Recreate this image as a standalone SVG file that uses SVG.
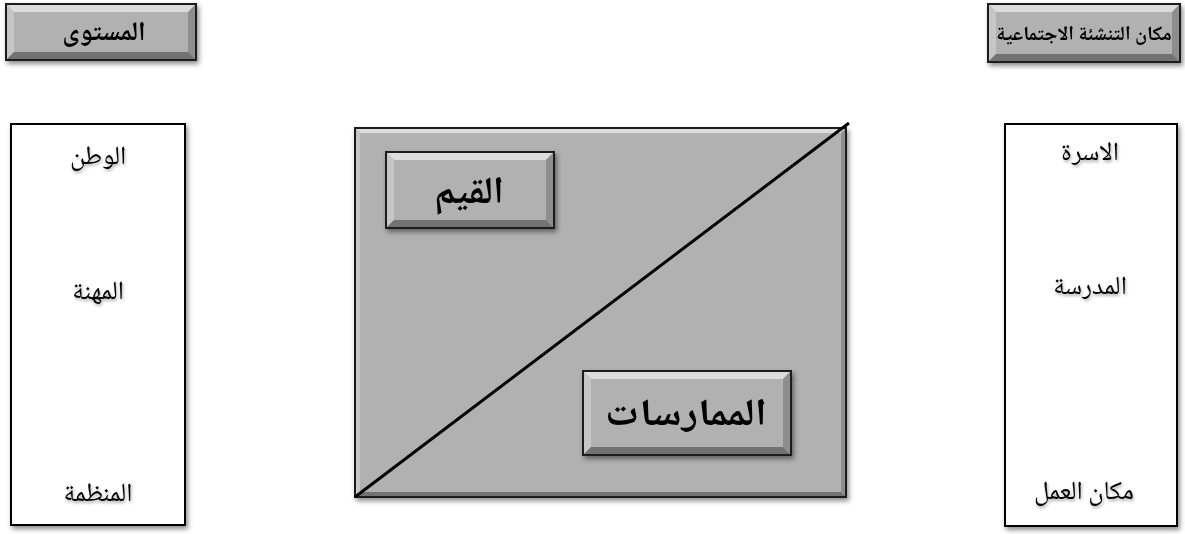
<svg xmlns="http://www.w3.org/2000/svg" width="1185" height="534" viewBox="0 0 1185 534">
<defs>
<filter id="sh" x="-10%" y="-10%" width="130%" height="130%"><feDropShadow dx="2" dy="3" stdDeviation="2.5" flood-color="#000" flood-opacity="0.45"/></filter>
<filter id="tsh" x="-10%" y="-20%" width="130%" height="150%"><feDropShadow dx="1" dy="2" stdDeviation="1.5" flood-color="#000" flood-opacity="0.35"/></filter>
</defs>
<style>
.face{fill:#b1b1b1}
.top{fill:#dcdcdc}
.left{fill:#c6c6c6}
.right{fill:#8e8e8e}
.bot{fill:#727272}
.frame{fill:none;stroke:#1a1a1a;stroke-width:2}
.lst{fill:#fff;stroke:#000;stroke-width:2}
.hd{font-family:"Noto Naskh Arabic","Noto Sans Arabic","DejaVu Sans",sans-serif;font-weight:bold;font-size:27px;text-anchor:middle;fill:#000}
.hd2{font-family:"Noto Naskh Arabic","Noto Sans Arabic","DejaVu Sans",sans-serif;font-weight:bold;font-size:20px;text-anchor:middle;fill:#000}
.big{font-family:"Noto Naskh Arabic","Noto Sans Arabic","DejaVu Sans",sans-serif;font-weight:bold;font-size:38px;text-anchor:middle;fill:#000}
.it{font-family:"Noto Naskh Arabic","Noto Sans Arabic","DejaVu Sans",sans-serif;font-size:26px;text-anchor:middle;fill:#000}
</style>

<g id="header-level" filter="url(#sh)">
<rect class="face" x="6" y="4" width="190" height="56"/>
<polygon class="top" points="6,4 196,4 188,12 14,12"/>
<polygon class="left" points="6,4 14,12 14,52 6,60"/>
<polygon class="right" points="196,4 196,60 188,52 188,12"/>
<polygon class="bot" points="6,60 14,52 188,52 196,60"/>
<rect class="frame" x="6" y="4" width="190" height="56"/>
<text class="hd" x="104" y="40" direction="rtl">المستوى</text>
</g>

<g id="header-place" filter="url(#sh)">
<rect class="face" x="988" y="4" width="192" height="58"/>
<polygon class="top" points="988,4 1180,4 1172,12 996,12"/>
<polygon class="left" points="988,4 996,12 996,54 988,62"/>
<polygon class="right" points="1180,4 1180,62 1172,54 1172,12"/>
<polygon class="bot" points="988,62 996,54 1172,54 1180,62"/>
<rect class="frame" x="988" y="4" width="192" height="58"/>
<text class="hd2" x="1084" y="40" direction="rtl">مكان التنشئة الاجتماعية</text>
</g>

<g id="levels">
<rect class="lst" x="11" y="124" width="174" height="401" filter="url(#sh)"/>
<g filter="url(#tsh)">
<text class="it" x="98" y="164" direction="rtl">الوطن</text>
<text class="it" x="98" y="299" direction="rtl">المهنة</text>
<text class="it" x="98" y="501" direction="rtl">المنظمة</text>
</g>
</g>

<g id="places">
<rect class="lst" x="1005" y="124" width="172" height="402" filter="url(#sh)"/>
<g filter="url(#tsh)">
<text class="it" x="1090" y="160" direction="rtl">الاسرة</text>
<text class="it" x="1090" y="294" direction="rtl">المدرسة</text>
<text class="it" x="1084" y="499" direction="rtl">مكان العمل</text>
</g>
</g>

<g id="center" filter="url(#sh)">
<rect class="face" x="355" y="128" width="491" height="369"/>
<polygon class="top" points="355,128 846,128 841,133 360,133"/>
<polygon class="left" points="355,128 360,133 360,492 355,497"/>
<polygon class="right" points="846,128 846,497 841,492 841,133"/>
<polygon class="bot" points="355,497 360,492 841,492 846,497"/>
<rect class="frame" x="355" y="128" width="491" height="369"/>
</g>

<g id="connectors">
<line x1="355" y1="497" x2="849" y2="123" stroke="#000" stroke-width="3"/>
</g>

<g id="values" filter="url(#sh)">
<rect class="face" x="386" y="152" width="168" height="76"/>
<polygon class="top" points="386,152 554,152 546,160 394,160"/>
<polygon class="left" points="386,152 394,160 394,220 386,228"/>
<polygon class="right" points="554,152 554,228 546,220 546,160"/>
<polygon class="bot" points="386,228 394,220 546,220 554,228"/>
<rect class="frame" x="386" y="152" width="168" height="76"/>
<text class="big" x="469" y="203" direction="rtl">القيم</text>
</g>

<g id="practices" filter="url(#sh)">
<rect class="face" x="583" y="371" width="208" height="84"/>
<polygon class="top" points="583,371 791,371 783,379 591,379"/>
<polygon class="left" points="583,371 591,379 591,447 583,455"/>
<polygon class="right" points="791,371 791,455 783,447 783,379"/>
<polygon class="bot" points="583,455 591,447 783,447 791,455"/>
<rect class="frame" x="583" y="371" width="208" height="84"/>
<text class="big" x="686" y="425" direction="rtl" textLength="162" lengthAdjust="spacingAndGlyphs">الممارسات</text>
</g>
</svg>
